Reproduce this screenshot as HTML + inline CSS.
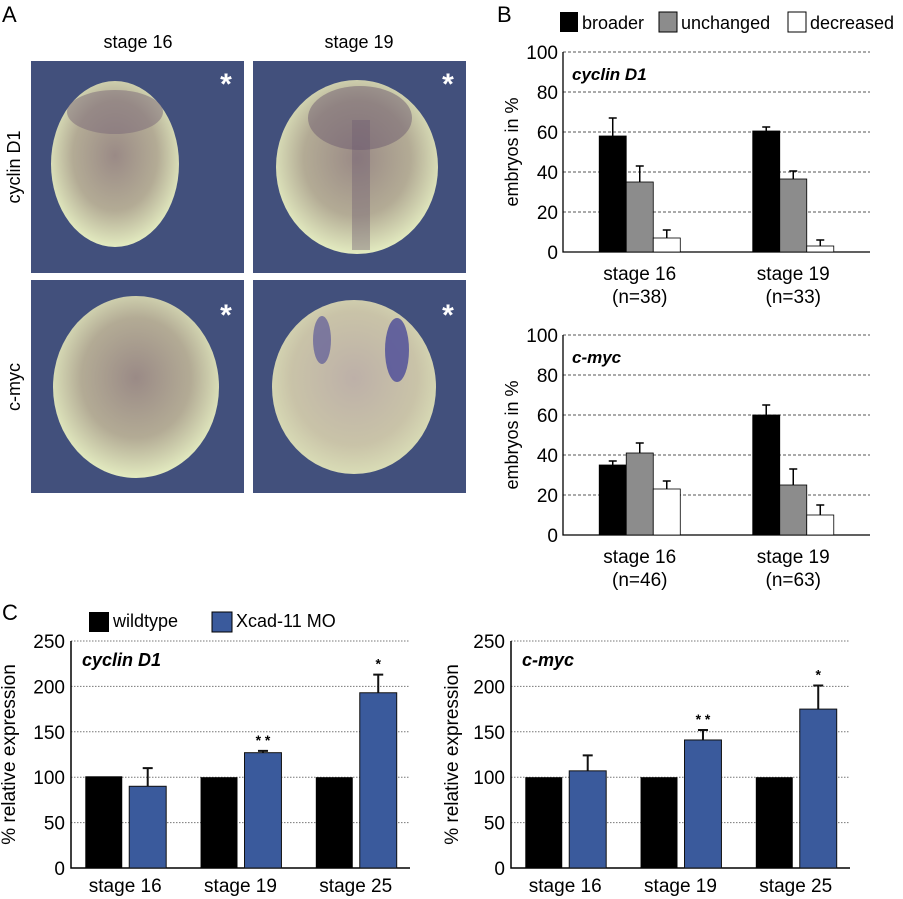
<!DOCTYPE html>
<html><head><meta charset="utf-8">
<style>
html,body{margin:0;padding:0;background:#fff;}
svg{display:block;font-family:"Liberation Sans",Arial,sans-serif;}
</style></head>
<body>
<svg id="fig" width="903" height="899" viewBox="0 0 903 899" xmlns="http://www.w3.org/2000/svg">
<defs>
<radialGradient id="emb1" cx="50%" cy="45%" r="55%">
<stop offset="0" stop-color="#9a8a86"/><stop offset="0.6" stop-color="#b3ab95"/><stop offset="1" stop-color="#e3ebc0"/>
</radialGradient>
<radialGradient id="emb2" cx="50%" cy="45%" r="55%">
<stop offset="0" stop-color="#bdb0a8"/><stop offset="0.7" stop-color="#c9c3a8"/><stop offset="1" stop-color="#d9dcb6"/>
</radialGradient>
</defs>
<!-- Panel A -->
<text x="2" y="22" font-size="22">A</text>
<text x="138" y="48" font-size="18" text-anchor="middle">stage 16</text>
<text x="359" y="48" font-size="18" text-anchor="middle">stage 19</text>
<text x="20" y="167" font-size="18" text-anchor="middle" transform="rotate(-90 20 167)">cyclin D1</text>
<text x="20" y="387" font-size="18" text-anchor="middle" transform="rotate(-90 20 387)">c-myc</text>
<g>
<rect x="31" y="61" width="213" height="212" fill="#42507c"/>
<ellipse cx="115" cy="164" rx="64" ry="83" fill="url(#emb1)"/>
<ellipse cx="115" cy="112" rx="48" ry="22" fill="#7a6878" opacity="0.5"/>
<text x="226" y="94" font-size="30" fill="#fff" text-anchor="middle" font-weight="bold">*</text></g>
<g>
<rect x="253" y="61" width="213" height="212" fill="#42507c"/>
<ellipse cx="357" cy="167" rx="81" ry="87" fill="url(#emb1)"/>
<ellipse cx="360" cy="118" rx="52" ry="32" fill="#6e5c70" opacity="0.5"/>
<rect x="352" y="120" width="18" height="130" fill="#6e5c70" opacity="0.4"/>
<text x="448" y="94" font-size="30" fill="#fff" text-anchor="middle" font-weight="bold">*</text></g>
<g>
<rect x="31" y="280" width="213" height="213" fill="#42507c"/>
<ellipse cx="136" cy="387" rx="83" ry="91" fill="url(#emb1)"/>
<text x="226" y="325" font-size="30" fill="#fff" text-anchor="middle" font-weight="bold">*</text></g>
<g>
<rect x="253" y="280" width="213" height="213" fill="#42507c"/>
<ellipse cx="354" cy="387" rx="82" ry="87" fill="url(#emb2)"/>
<ellipse cx="322" cy="340" rx="9" ry="24" fill="#5c5a98" opacity="0.7"/>
<ellipse cx="397" cy="350" rx="12" ry="32" fill="#4a4a98" opacity="0.8"/>
<text x="448" y="325" font-size="30" fill="#fff" text-anchor="middle" font-weight="bold">*</text></g>

<!-- Panel B -->
<text x="497" y="22" font-size="22">B</text>
<g>
<rect x="560" y="12" width="18" height="20" fill="#000"/>
<text x="582" y="29" font-size="18">broader</text>
<rect x="659" y="12" width="18" height="20" fill="#8c8c8c" stroke="#000"/>
<text x="681" y="29" font-size="18">unchanged</text>
<rect x="788" y="12" width="18" height="20" fill="#fff" stroke="#000"/>
<text x="810" y="29" font-size="18">decreased</text>
</g>
<g id="b1"></g>
<g id="b2"></g>

<!-- Panel C -->
<text x="2" y="620" font-size="22">C</text>
<g>
<rect x="89" y="612" width="20" height="20" fill="#000"/>
<text x="113" y="627" font-size="18">wildtype</text>
<rect x="212" y="612" width="20" height="20" fill="#3a5a9c" stroke="#000"/>
<text x="236" y="627" font-size="18">Xcad-11 MO</text>
</g>
<g id="c1"></g>
<g id="c2"></g>
</svg>
<script>
// Panel B data
const bCategories = ["stage 16", "stage 19"];
const bCyclinN = ["(n=38)", "(n=33)"];
const bCmycN = ["(n=46)", "(n=63)"];
const bCyclinBroader = [58, 60.5];
const bCyclinBroaderErr = [9, 2];
const bCyclinUnchanged = [35, 36.5];
const bCyclinUnchangedErr = [8, 4];
const bCyclinDecreased = [7, 3];
const bCyclinDecreasedErr = [4, 3];
const bCmycBroader = [35, 60];
const bCmycBroaderErr = [2, 5];
const bCmycUnchanged = [41, 25];
const bCmycUnchangedErr = [5, 8];
const bCmycDecreased = [23, 10];
const bCmycDecreasedErr = [4, 5];
const bTicks = [0, 20, 40, 60, 80, 100];
// Panel C data
const cCategories = ["stage 16", "stage 19", "stage 25"];
const cCyclinWT = [101, 100, 100];
const cCyclinMO = [90, 127, 193];
const cCyclinMOErr = [20, 2, 20];
const cCyclinSig = ["", "**", "*"];
const cCmycWT = [100, 100, 100];
const cCmycMO = [107, 141, 175];
const cCmycMOErr = [17, 11, 26];
const cCmycSig = ["", "**", "*"];
const cTicks = [0, 50, 100, 150, 200, 250];

const NS = "http://www.w3.org/2000/svg";
function mk(parent, tag, attrs, text) {
  const e = document.createElementNS(NS, tag);
  for (const k in attrs) e.setAttribute(k, attrs[k]);
  if (text !== undefined) e.textContent = text;
  parent.appendChild(e);
  return e;
}

function chartB(g, x0, x1, yTop, yBot, title, series, errs, nLabels) {
  const y = v => yBot - (v / 100) * (yBot - yTop);
  bTicks.forEach(t => {
    if (t > 0) {
      const l = mk(g, "line", {x1: x0, x2: x1, y1: y(t), y2: y(t), stroke: "#555", "stroke-dasharray": "3,2", "stroke-width": 1});
      
      
    }
    const tx = mk(g, "text", {x: x0 - 5, y: y(t) + 7, "font-size": 19, "text-anchor": "end"}, t);
    
    
  });
  const ax = mk(g, "path", {d: `M${x0},${yTop} V${yBot} H${x1}`, stroke: "#000", fill: "none", "stroke-width": 1.3});
  
  
  const yt = mk(g, "text", {x: 518, y: (yTop + yBot) / 2, "font-size": 18, "text-anchor": "middle", transform: `rotate(-90 518 ${(yTop + yBot) / 2})`}, "embryos in %");
  
  
  const tt = mk(g, "text", {x: x0 + 9, y: yTop + 28, "font-size": 17, "font-weight": "bold", "font-style": "italic"}, title);
  
  
  const fills = ["#000", "#8c8c8c", "#fff"];
  const names = ["broader", "unchanged", "decreased"];
  const bw = (x1 - x0) * 0.088;
  bCategories.forEach((c, i) => {
    const cx = x0 + (x1 - x0) * (0.25 + 0.5 * i);
    series.forEach((s, j) => {
      const bx = cx - 1.5 * bw + j * bw;
      const v = s[i], e = errs[j][i];
      const ex = bx + bw / 2;
      const el = mk(g, "path", {d: `M${ex},${y(v)} V${y(v + e)} M${ex - 4},${y(v + e)} H${ex + 4}`, stroke: "#000", "stroke-width": 1.5, fill: "none"});
      
      
      const r = mk(g, "rect", {x: bx, y: y(v), width: bw, height: yBot - y(v), fill: fills[j], stroke: "#000", "stroke-width": 0.8});
      
      
    });
    const l1 = mk(g, "text", {x: cx, y: yBot + 28, "font-size": 19, "text-anchor": "middle"}, c);
    
    
    const l2 = mk(g, "text", {x: cx, y: yBot + 51, "font-size": 19, "text-anchor": "middle"}, nLabels[i]);
    
    
  });
}

function chartC(g, x0, x1, yTop, yBot, title, wt, mo, moErr, sig, titleX) {
  const y = v => yBot - (v / 250) * (yBot - yTop);
  cTicks.forEach(t => {
    if (t > 0) {
      const l = mk(g, "line", {x1: x0, x2: x1, y1: y(t), y2: y(t), stroke: "#777", "stroke-dasharray": "1.5,1.5", "stroke-width": 1});
      
      
    }
    const tx = mk(g, "text", {x: x0 - 6, y: y(t) + 7, "font-size": 19, "text-anchor": "end"}, t);
    
    
  });
  const ax = mk(g, "path", {d: `M${x0},${yTop} V${yBot} H${x1}`, stroke: "#000", fill: "none", "stroke-width": 1.5});
  
  
  const my = (yTop + yBot) / 2;
  const yt = mk(g, "text", {x: titleX, y: my, "font-size": 19, "text-anchor": "middle", transform: `rotate(-90 ${titleX} ${my})`}, "% relative expression");
  
  
  const tt = mk(g, "text", {x: x0 + 11, y: yTop + 25, "font-size": 18, "font-weight": "bold", "font-style": "italic"}, title);
  
  
  const W = x1 - x0;
  const bw = W * 0.109;
  cCategories.forEach((c, i) => {
    const cx = x0 + W * (0.16 + 0.34 * i);
    const r1 = mk(g, "rect", {x: cx - bw - 3, y: y(wt[i]), width: bw, height: yBot - y(wt[i]), fill: "#000"});
    
    
    const bx = cx + 4;
    const ex = bx + bw / 2;
    const v = mo[i], e = moErr[i];
    const el = mk(g, "path", {d: `M${ex},${y(v)} V${y(v + e)} M${ex - 5},${y(v + e)} H${ex + 5}`, stroke: "#111", "stroke-width": 2, fill: "none"});
    
    
    const r2 = mk(g, "rect", {x: bx, y: y(v), width: bw, height: yBot - y(v), fill: "#3a5a9c", stroke: "#111", "stroke-width": 1});
    
    
    if (sig[i]) {
      const s = mk(g, "text", {x: ex, y: y(v + e) - 6, "font-size": 14, "font-weight": "bold", "text-anchor": "middle"}, sig[i].split("").join(" "));
      
      
    }
    const l1 = mk(g, "text", {x: cx, y: yBot + 24, "font-size": 19, "text-anchor": "middle"}, c);
    
    
  });
}

chartB(document.getElementById("b1"), 563, 870, 52, 252, "cyclin D1",
  [bCyclinBroader, bCyclinUnchanged, bCyclinDecreased],
  [bCyclinBroaderErr, bCyclinUnchangedErr, bCyclinDecreasedErr], bCyclinN);
chartB(document.getElementById("b2"), 563, 870, 335, 535, "c-myc",
  [bCmycBroader, bCmycUnchanged, bCmycDecreased],
  [bCmycBroaderErr, bCmycUnchangedErr, bCmycDecreasedErr], bCmycN);
chartC(document.getElementById("c1"), 71, 410, 641, 868, "cyclin D1", cCyclinWT, cCyclinMO, cCyclinMOErr, cCyclinSig, 15);
chartC(document.getElementById("c2"), 511, 850, 641, 868, "c-myc", cCmycWT, cCmycMO, cCmycMOErr, cCmycSig, 458);
</script>
</body></html>
